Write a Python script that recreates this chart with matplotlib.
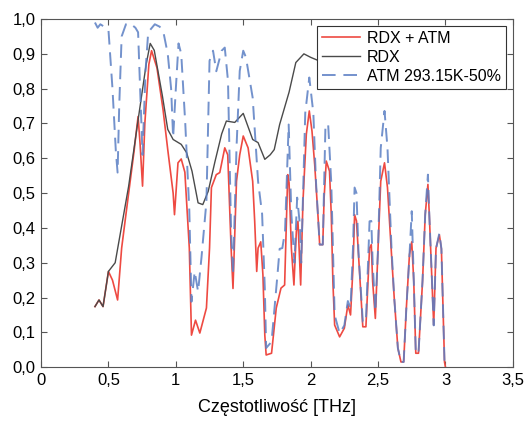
import matplotlib
matplotlib.use('Agg')
import matplotlib.pyplot as plt
from matplotlib.ticker import FuncFormatter

plt.rcParams['font.family'] = ['Liberation Sans', 'DejaVu Sans']

# RDX (black)
rdx_x = [0.40, 0.43, 0.46, 0.50, 0.55, 0.65, 0.72, 0.78, 0.81, 0.84, 0.90, 0.94, 0.98,
         1.04, 1.08, 1.12, 1.165, 1.20, 1.24, 1.29, 1.34, 1.375, 1.437, 1.50, 1.57,
         1.61, 1.66, 1.70, 1.73, 1.77, 1.84, 1.89, 1.95, 2.00, 2.08, 2.20, 2.35, 2.48,
         2.55, 2.70, 2.90, 3.00]
rdx_y = [0.174, 0.193, 0.174, 0.275, 0.30, 0.52, 0.71, 0.87, 0.93, 0.91, 0.78, 0.683, 0.654,
         0.64, 0.616, 0.563, 0.472, 0.467, 0.505, 0.59, 0.67, 0.707, 0.703, 0.729, 0.654,
         0.645, 0.597, 0.61, 0.625, 0.697, 0.79, 0.875, 0.90, 0.89, 0.877, 0.86, 0.83, 0.80,
         0.80, 0.82, 0.83, 0.84]

# RDX + ATM (red)
mix_x = [0.40, 0.43, 0.46, 0.50, 0.53, 0.568, 0.598, 0.65, 0.69, 0.72, 0.735, 0.753, 0.77,
         0.80, 0.82, 0.86, 0.905, 0.94, 0.98, 0.99, 1.016, 1.04, 1.067, 1.10, 1.116, 1.146,
         1.178, 1.227, 1.25, 1.264, 1.30, 1.326, 1.363, 1.385, 1.41, 1.424, 1.45, 1.474,
         1.50, 1.536, 1.57, 1.585, 1.60, 1.61, 1.63, 1.646, 1.66, 1.67, 1.71, 1.745, 1.78,
         1.807, 1.83, 1.84, 1.857, 1.876, 1.894, 1.906, 1.926, 1.943, 1.968, 1.99, 2.01,
         2.03, 2.054, 2.067, 2.09, 2.10, 2.116, 2.14, 2.153, 2.165, 2.178, 2.215, 2.25,
         2.276, 2.296, 2.314, 2.326, 2.34, 2.355, 2.387, 2.41, 2.437, 2.45, 2.46, 2.48,
         2.50, 2.52, 2.548, 2.57, 2.60, 2.62, 2.647, 2.67, 2.69, 2.71, 2.733, 2.75, 2.765,
         2.78, 2.80, 2.83, 2.85, 2.87, 2.88, 2.90, 2.913, 2.93, 2.955, 2.97, 2.993, 3.0]
mix_y = [0.174, 0.193, 0.174, 0.275, 0.25, 0.193, 0.342, 0.50, 0.62, 0.72, 0.64, 0.52, 0.70,
         0.87, 0.909, 0.86, 0.74, 0.625, 0.50, 0.438, 0.587, 0.598, 0.56, 0.342, 0.092, 0.135,
         0.098, 0.17, 0.342, 0.516, 0.553, 0.559, 0.63, 0.61, 0.342, 0.226, 0.534, 0.61,
         0.664, 0.63, 0.534, 0.419, 0.275, 0.342, 0.36, 0.265, 0.092, 0.035, 0.04, 0.17, 0.227,
         0.236, 0.553, 0.53, 0.342, 0.236, 0.39, 0.419, 0.236, 0.476, 0.669, 0.736, 0.678,
         0.582, 0.438, 0.352, 0.352, 0.487, 0.592, 0.563, 0.438, 0.246, 0.121, 0.087, 0.112,
         0.179, 0.15, 0.285, 0.438, 0.42, 0.323, 0.116, 0.116, 0.342, 0.352, 0.246, 0.14,
         0.342, 0.534, 0.587, 0.516, 0.323, 0.199, 0.055, 0.015, 0.015, 0.17, 0.323, 0.36, 0.246,
         0.04, 0.04, 0.246, 0.438, 0.525, 0.44, 0.246, 0.121, 0.342, 0.38, 0.34, 0.015, 0.0]

# ATM 293.15K-50% (blue dashed)
atm_x = [0.40, 0.42, 0.44, 0.46, 0.50, 0.53, 0.555, 0.568, 0.58, 0.598, 0.63, 0.66, 0.70,
         0.72, 0.735, 0.753, 0.775, 0.795, 0.844, 0.88, 0.906, 0.94, 0.965, 0.98, 1.00, 1.02,
         1.04, 1.07, 1.10, 1.116, 1.14, 1.165, 1.19, 1.227, 1.25, 1.276, 1.30, 1.34, 1.363,
         1.387, 1.41, 1.424, 1.45, 1.474, 1.50, 1.52, 1.57, 1.61, 1.64, 1.66, 1.67, 1.71,
         1.756, 1.77, 1.79, 1.81, 1.837, 1.857, 1.88, 1.90, 1.92, 1.93, 1.96, 1.99, 2.02,
         2.04, 2.067, 2.09, 2.11, 2.13, 2.153, 2.178, 2.215, 2.25, 2.276, 2.296, 2.314,
         2.326, 2.34, 2.355, 2.387, 2.41, 2.437, 2.45, 2.46, 2.48, 2.50, 2.52, 2.548, 2.57,
         2.60, 2.62, 2.647, 2.67, 2.69, 2.71, 2.733, 2.75, 2.765, 2.78, 2.80, 2.83, 2.85,
         2.87, 2.88, 2.90, 2.913, 2.93, 2.955, 2.97, 2.993]
atm_y = [0.99, 0.975, 0.985, 0.98, 0.97, 0.80, 0.62, 0.559, 0.75, 0.95, 0.985, 0.988, 0.975,
         0.962, 0.80, 0.61, 0.85, 0.962, 0.985, 0.978, 0.966, 0.90, 0.80, 0.66, 0.80, 0.93,
         0.90, 0.70, 0.45, 0.188, 0.275, 0.217, 0.314, 0.476, 0.88, 0.909, 0.85, 0.909, 0.918,
         0.822, 0.39, 0.265, 0.63, 0.851, 0.909, 0.89, 0.774, 0.534, 0.44, 0.227, 0.055, 0.073,
         0.275, 0.34, 0.342, 0.39, 0.697, 0.44, 0.30, 0.487, 0.41, 0.30, 0.73, 0.832, 0.73,
         0.53, 0.352, 0.352, 0.697, 0.697, 0.53, 0.15, 0.097, 0.12, 0.19, 0.17, 0.34,
         0.516, 0.50, 0.33, 0.13, 0.13, 0.419, 0.42, 0.30, 0.16, 0.34, 0.63, 0.736, 0.63,
         0.34, 0.2, 0.055, 0.015, 0.015, 0.17, 0.32, 0.448, 0.25, 0.04, 0.04, 0.25, 0.44,
         0.553, 0.44, 0.25, 0.12, 0.34, 0.385, 0.34, 0.015]

x_ticks = [0, 0.5, 1, 1.5, 2, 2.5, 3, 3.5]
y_ticks = [0.0, 0.1, 0.2, 0.3, 0.4, 0.5, 0.6, 0.7, 0.8, 0.9, 1.0]

fig = plt.figure(figsize=(5.26, 4.23), dpi=100)
ax = fig.add_axes([0.078, 0.132, 0.897, 0.823])

ax.plot(mix_x, mix_y, color='#ee4a42', lw=1.2, label='RDX + ATM')
ax.plot(rdx_x, rdx_y, color='#4a4a4a', lw=1.0, label='RDX')
ax.plot(atm_x, atm_y, color='#5b7fc4', lw=1.4, alpha=0.85, dashes=(7, 4),
        label='ATM 293.15K-50%')

ax.set_xlim(0, 3.5)
ax.set_ylim(0, 1.0)
ax.set_xticks(x_ticks)
ax.set_yticks(y_ticks)
ax.xaxis.set_major_formatter(FuncFormatter(lambda v, p: f'{v:g}'.replace('.', ',')))
ax.yaxis.set_major_formatter(FuncFormatter(lambda v, p: f'{v:.1f}'.replace('.', ',')))
ax.tick_params(direction='in', top=True, right=True, labelsize=12, length=4,
               color='#555555', pad=4)
for s in ax.spines.values():
    s.set_color('#555555')
ax.set_xlabel('Częstotliwość [THz]', fontsize=13, labelpad=8)

leg = ax.legend(loc='upper right', fontsize=11.5, frameon=True, fancybox=False,
                framealpha=1, edgecolor='#333333', borderpad=0.3, labelspacing=0.25,
                handlelength=2.4, handletextpad=0.4, borderaxespad=0.45)
leg.get_frame().set_linewidth(0.8)

fig.savefig('out.png', dpi=100)
